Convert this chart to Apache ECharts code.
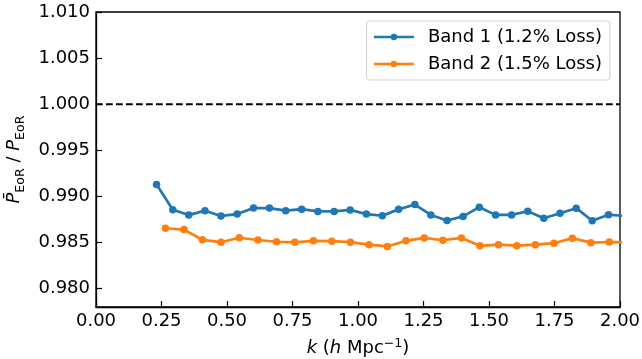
<!DOCTYPE html>
<html>
<head>
<meta charset="utf-8">
<script src="https://cdn.jsdelivr.net/npm/echarts@6/dist/echarts.min.js"></script>
<style>html,body{margin:0;padding:0;background:#fff}#c{width:642px;height:359px}</style>
</head>
<body>
<div id="c"></div>
<script>
const band1K = [0.231,0.293,0.354,0.416,0.477,0.539,0.601,0.662,0.724,0.785,0.847,0.909,0.970,1.032,1.093,1.155,1.217,1.278,1.340,1.401,1.463,1.525,1.586,1.648,1.709,1.771,1.833,1.894,1.956,2.017];
const band1Ratio = [0.99130,0.98855,0.98797,0.98845,0.98788,0.98808,0.98873,0.98873,0.98845,0.98861,0.98837,0.98837,0.98853,0.98808,0.98790,0.98859,0.98911,0.98799,0.98739,0.98783,0.98883,0.98799,0.98799,0.98839,0.98763,0.98817,0.98872,0.98736,0.98801,0.98788];
const band2K = [0.265,0.336,0.406,0.477,0.547,0.618,0.689,0.759,0.830,0.900,0.971,1.042,1.112,1.183,1.253,1.324,1.395,1.465,1.536,1.606,1.677,1.748,1.818,1.889,1.959,2.030];
const band2Ratio = [0.98654,0.98640,0.98529,0.98503,0.98551,0.98527,0.98508,0.98502,0.98518,0.98514,0.98503,0.98476,0.98457,0.98518,0.98549,0.98524,0.98549,0.98464,0.98476,0.98465,0.98476,0.98492,0.98547,0.98498,0.98505,0.98503];
const seriesNames = ['Band 1 (1.2% Loss)', 'Band 2 (1.5% Loss)'];
const xTicks = [0, 0.25, 0.5, 0.75, 1.0, 1.25, 1.5, 1.75, 2.0];
const yTicks = [0.980, 0.985, 0.990, 0.995, 1.000, 1.005, 1.010];
const refLine = [[0, 1.0], [2, 1.0]];

const zip = (a, b) => a.map((v, i) => [v, b[i]]);
const FONT = 'DejaVu Sans';
const chart = echarts.init(document.getElementById('c'), null, {renderer: 'canvas'});
chart.setOption({
  animation: false,
  textStyle: {fontFamily: FONT},
  grid: {left: 96, right: 22, top: 12, bottom: 52, containLabel: false, outerBoundsMode: 'none',
         show: true, borderColor: '#000', borderWidth: 1.3, backgroundColor: 'transparent'},
  legend: {
    data: seriesNames, orient: 'vertical', right: 32, top: 21,
    backgroundColor: '#fff', borderColor: '#d0d0d0', borderWidth: 1, borderRadius: 3,
    padding: [6, 8, 6, 6], itemWidth: 40, itemHeight: 8, itemGap: 7,
    itemStyle: {borderWidth: 0},
    lineStyle: {width: 2.7},
    textStyle: {fontFamily: FONT, fontSize: 18, color: '#000', padding: [0, 0, 0, 9], lineHeight: 20}
  },
  xAxis: {
    type: 'value', min: 0, max: 2, interval: 0.25,
    name: '{i|k} ({i|h} Mpc{sup|−1})', nameLocation: 'middle', nameGap: 30,
    nameTextStyle: {fontFamily: FONT, fontSize: 18, color: '#000', lineHeight: 22,
      rich: {i: {fontFamily: FONT, fontStyle: 'italic', fontSize: 18, color: '#000', lineHeight: 22},
             sup: {fontFamily: FONT, fontSize: 12.6, color: '#000', lineHeight: 13, verticalAlign: 'top'}}},
    axisLine: {lineStyle: {color: '#000', width: 1.3}},
    axisTick: {inside: true, length: 6, lineStyle: {color: '#000', width: 1.2}},
    axisLabel: {color: '#000', fontSize: 18, fontFamily: FONT, margin: 5, formatter: v => v.toFixed(2)},
    splitLine: {show: false}
  },
  yAxis: {
    type: 'value', min: 0.978, max: 1.010,
    name: '{p|P̄}{sub|EoR}{t| / }{p|P}{sub|EoR}', nameLocation: 'middle', nameRotate: 90, nameGap: 54,
    nameTextStyle: {fontFamily: FONT, fontSize: 18, color: '#000',
      rich: {p: {fontFamily: FONT, fontStyle: 'italic', fontSize: 18, color: '#000', lineHeight: 26},
             t: {fontFamily: FONT, fontSize: 18, color: '#000', lineHeight: 26},
             sub: {fontFamily: FONT, fontSize: 12.6, color: '#000', lineHeight: 16, verticalAlign: 'bottom'}}},
    axisLine: {lineStyle: {color: '#000', width: 1.3}},
    axisTick: {inside: true, length: 6, lineStyle: {color: '#000', width: 1.2}, customValues: yTicks},
    axisLabel: {color: '#000', fontSize: 18, fontFamily: FONT, margin: 6, customValues: yTicks, formatter: v => v.toFixed(3)},
    splitLine: {show: false}
  },
  series: [
    {name: seriesNames[0], type: 'line', data: zip(band1K, band1Ratio), symbol: 'circle', symbolSize: 7.5, showSymbol: true,
     color: '#1f77b4', lineStyle: {width: 2.7, color: '#1f77b4'}, itemStyle: {color: '#1f77b4'}, clip: true, z: 3},
    {name: seriesNames[1], type: 'line', data: zip(band2K, band2Ratio), symbol: 'circle', symbolSize: 7.5, showSymbol: true,
     color: '#ff7f0e', lineStyle: {width: 2.7, color: '#ff7f0e'}, itemStyle: {color: '#ff7f0e'}, clip: true, z: 3},
    {name: 'ref', type: 'line', data: refLine, symbol: 'none', silent: true,
     lineStyle: {color: '#000', width: 2, type: [6.7, 3.3]}, z: 2}
  ]
});
</script>
</body>
</html>
